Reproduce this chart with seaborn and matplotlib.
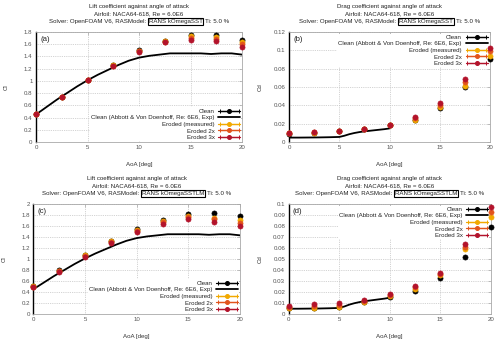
import numpy as np
import matplotlib
matplotlib.use("Agg")
import matplotlib.pyplot as plt
from matplotlib.container import ErrorbarContainer
from matplotlib.legend_handler import HandlerErrorbar
import seaborn as sns

# --- DATA ---
aoa = [0, 2.5, 5, 7.5, 10, 12.5, 15, 17.5, 20]

# RANS kOmegaSST
cl_sst_clean = [0.45, 0.74, 1.01, 1.26, 1.50, 1.66, 1.75, 1.745, 1.67]
cl_sst_meas = [0.45, 0.74, 1.01, 1.26, 1.49, 1.65, 1.73, 1.72, 1.64]
cl_sst_2x = [0.45, 0.74, 1.01, 1.25, 1.49, 1.64, 1.70, 1.68, 1.60]
cl_sst_3x = [0.45, 0.74, 1.01, 1.25, 1.48, 1.63, 1.67, 1.65, 1.56]

cd_sst_clean = [0.0092, 0.0102, 0.0115, 0.0140, 0.0185, 0.0245, 0.037, 0.060, 0.090]
cd_sst_meas = [0.0093, 0.0103, 0.0117, 0.0142, 0.0187, 0.0245, 0.038, 0.0616, 0.094]
cd_sst_2x = [0.0094, 0.0104, 0.0118, 0.0144, 0.0189, 0.026, 0.040, 0.065, 0.099]
cd_sst_3x = [0.0095, 0.0105, 0.0120, 0.0145, 0.0190, 0.027, 0.042, 0.069, 0.103]

# RANS kOmegaSSTLM
cl_lm_clean = [0.50, 0.80, 1.08, 1.33, 1.54, 1.71, 1.81, 1.83, 1.78]
cl_lm_meas = [0.50, 0.79, 1.07, 1.32, 1.53, 1.69, 1.78, 1.75, 1.70]
cl_lm_2x = [0.49, 0.78, 1.05, 1.31, 1.51, 1.67, 1.76, 1.72, 1.65]
cl_lm_3x = [0.49, 0.77, 1.03, 1.29, 1.49, 1.64, 1.73, 1.68, 1.60]

cd_lm_clean = [0.0050, 0.0055, 0.0062, 0.0110, 0.0155, 0.0212, 0.0324, 0.052, 0.079]
cd_lm_meas = [0.0050, 0.0056, 0.0066, 0.0112, 0.0160, 0.0230, 0.0350, 0.0588, 0.0879]
cd_lm_2x = [0.0060, 0.0075, 0.0085, 0.0118, 0.0170, 0.0245, 0.0365, 0.061, 0.093]
cd_lm_3x = [0.0070, 0.0095, 0.0100, 0.0125, 0.0180, 0.0258, 0.0376, 0.0636, 0.0975]

# Abbott & Von Doenhoff experiment
exp_cl_aoa = list(range(0, 21))
exp_cl = [0.45, 0.57, 0.69, 0.80, 0.91, 1.01, 1.10, 1.18, 1.26, 1.33, 1.38,
          1.41, 1.43, 1.45, 1.45, 1.45, 1.45, 1.44, 1.45, 1.45, 1.43]
exp_cd_aoa = [0, 1, 2, 3, 4, 5, 5.5, 6, 6.5, 7, 7.5, 8, 8.5, 9, 9.5, 10]
exp_cd = [0.0048, 0.0048, 0.0049, 0.0050, 0.0052, 0.0055, 0.0068, 0.0085,
          0.0098, 0.0108, 0.0116, 0.0122, 0.0128, 0.0134, 0.0140, 0.0148]

names = ["Clean", "Eroded (measured)", "Eroded 2x", "Eroded 3x"]
colors = ["#000000", "#f2a900", "#e2541c", "#b3132b"]
exp_name = "Clean (Abbott & Von Doenhoff, Re: 6E6, Exp)"

sns.set_style("white")
plt.rcParams["font.family"] = ["Liberation Sans", "DejaVu Sans"]
FS = 4.4
GRAY = "#a8a8a8"


def titles(ax, kind, model):
    fig = ax.figure
    common = dict(xycoords="axes fraction", textcoords="offset points",
                  ha="center", va="center", fontsize=FS, color="#222222")
    ax.annotate(f"{kind} coefficient against angle of attack", xy=(0.5, 1), xytext=(0, 18.2), **common)
    ax.annotate("Airfoil: NACA64-618, Re = 6.0E6", xy=(0.5, 1), xytext=(0, 12.9), **common)
    # third line with the boxed model name
    t1 = ax.annotate("Solver: OpenFOAM V6, RASModel: ", xy=(0.5, 1), xycoords="axes fraction",
                     xytext=(0, 7.6), textcoords="offset points", ha="left", va="center",
                     fontsize=FS, color="#222222")
    t2 = ax.annotate(model, xy=(1, 0.5), xycoords=t1, xytext=(0.8, 0), textcoords="offset points",
                     ha="left", va="center", fontsize=FS, color="#222222",
                     bbox=dict(boxstyle="square,pad=0.15", fc="white", ec="black", lw=0.8))
    t3 = ax.annotate("Ti: 5.0 %", xy=(1, 0.5), xycoords=t2, xytext=(2.0, 0), textcoords="offset points",
                     ha="left", va="center", fontsize=FS, color="#222222")
    fig.canvas.draw()
    r = fig.canvas.get_renderer()
    w = t3.get_window_extent(r).x1 - t1.get_window_extent(r).x0
    t1.xyann = (-w / 2 * 72 / fig.dpi, 7.6)


def draw_panel(ax, series, exp_x, exp_y, ymax, ystep, ylabel, tag, kind, model, loc):
    ax.set_xlim(0, 20)
    ax.set_ylim(0, ymax)
    ax.set_xticks([0, 5, 10, 15, 20])
    yt = np.round(np.arange(0, ymax + ystep / 2, ystep), 4)
    ax.set_yticks(yt)
    ax.set_yticklabels([f"{v:g}" for v in yt])
    ax.grid(True, color="#c4c4c4", linestyle=(0, (1, 1.2)), linewidth=0.6)
    ax.tick_params(direction="in", length=2, width=0.5, colors=GRAY, labelcolor="#555555",
                   labelsize=FS, pad=2.5, top=True, right=True)
    for s in ax.spines.values():
        s.set_color(GRAY)
        s.set_linewidth(0.6)
    ax.spines["left"].set_color("black")
    ax.spines["left"].set_linewidth(1.0)

    sns.lineplot(x=exp_x, y=exp_y, ax=ax, color="black", linewidth=1.3, zorder=3, legend=False)
    for vals, c in zip(series, colors):
        sns.scatterplot(x=aoa, y=vals, ax=ax, color=c, s=14, edgecolor=c, linewidth=0.4,
                        zorder=4, legend=False, clip_on=False)

    # legend handles in gnuplot errorbar style
    handles = []
    for c in colors:
        handles.append(ax.errorbar([np.nan], [np.nan], xerr=[1], fmt="-o", color=c, ms=2.6,
                                   lw=0.9, capsize=1.3, capthick=0.7))
    exp_h = plt.Line2D([], [], color="black", lw=1.3)
    hs = [handles[0], exp_h, handles[1], handles[2], handles[3]]
    ls = [names[0], exp_name, names[1], names[2], names[3]]
    leg = ax.legend(hs, ls, loc=loc, markerfirst=False, fontsize=FS, frameon=True,
                    handlelength=3.6, handletextpad=0.6, labelspacing=0.22,
                    borderpad=0.15, borderaxespad=0.25 if loc.startswith("upper") else 0.15,
                    handler_map={ErrorbarContainer: HandlerErrorbar(xerr_size=1.55)})
    leg.get_frame().set_facecolor("white")
    leg.get_frame().set_edgecolor("none")
    leg.get_frame().set_alpha(1)
    leg.set_zorder(3.5)
    for t in leg.get_texts():
        t.set_color("#222222")

    ax.text(0.02, 0.96, tag, transform=ax.transAxes, ha="left", va="top", fontsize=5.6,
            color="#222222", zorder=6)
    ax.set_xlabel("AoA [deg]", fontsize=FS, color="#333333")
    ax.set_ylabel(ylabel, fontsize=FS, color="#333333")
    ax.xaxis.set_label_coords(0.5, -0.18)
    ax.yaxis.set_label_coords(-0.13, 0.5)
    titles(ax, kind, model)


fig = plt.figure(figsize=(5.0, 3.41), dpi=100)
ax_a = fig.add_axes([0.072, 0.5836, 0.412, 0.3226])
ax_b = fig.add_axes([0.578, 0.5836, 0.402, 0.3226])
ax_c = fig.add_axes([0.0667, 0.0792, 0.4133, 0.3226])
ax_d = fig.add_axes([0.5774, 0.0792, 0.404, 0.3226])

draw_panel(ax_a, [cl_sst_clean, cl_sst_meas, cl_sst_2x, cl_sst_3x], exp_cl_aoa, exp_cl,
           1.8, 0.2, "Cl", "(a)", "Lift", "RANS kOmegaSST", "lower right")
draw_panel(ax_b, [cd_sst_clean, cd_sst_meas, cd_sst_2x, cd_sst_3x], exp_cd_aoa, exp_cd,
           0.12, 0.02, "Cd", "(b)", "Drag", "RANS kOmegaSST", "upper right")
draw_panel(ax_c, [cl_lm_clean, cl_lm_meas, cl_lm_2x, cl_lm_3x], exp_cl_aoa, exp_cl,
           2.0, 0.2, "Cl", "(c)", "Lift", "RANS kOmegaSSTLM", "lower right")
draw_panel(ax_d, [cd_lm_clean, cd_lm_meas, cd_lm_2x, cd_lm_3x], exp_cd_aoa, exp_cd,
           0.1, 0.01, "Cd", "(d)", "Drag", "RANS kOmegaSSTLM", "upper right")

fig.savefig("out.png", dpi=100)
